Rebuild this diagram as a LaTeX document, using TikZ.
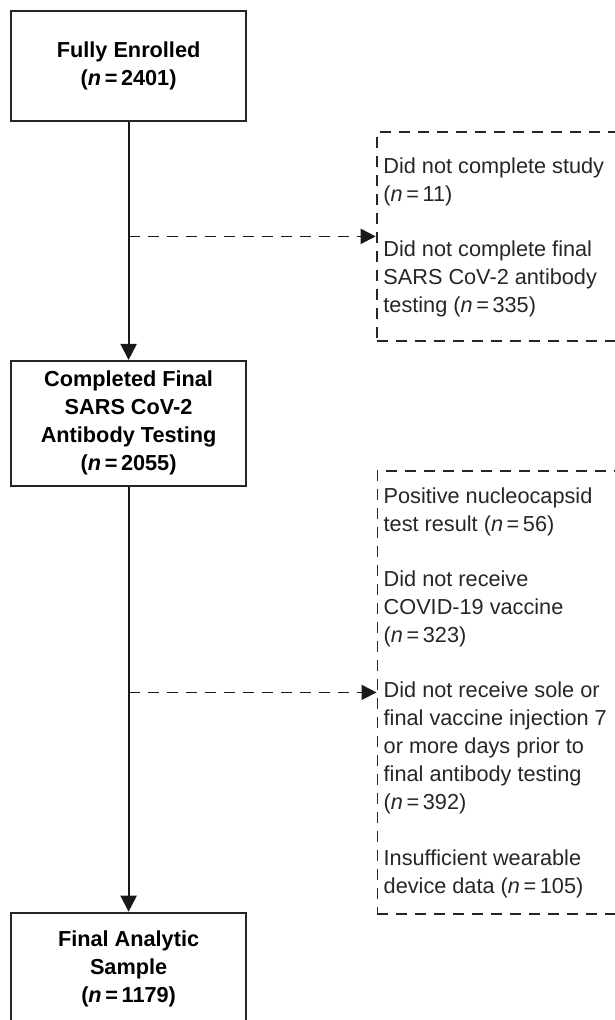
\documentclass[tikz,border=0pt]{standalone}
\usepackage{fontspec}
\setmainfont{Liberation Sans}
\usetikzlibrary{arrows.meta,positioning}

\begin{document}
\begin{tikzpicture}
    [x=1pt, y=-1pt,
    font=\fontsize{21.7}{28}\selectfont,
    % Main flow boxes
    stage/.style={rectangle, draw=black!85, line width=2pt, align=center, font=\fontsize{21.7}{28}\selectfont\bfseries, minimum width=235.3pt, inner sep=0pt},
    % Excluded participants
    excluded/.style={rectangle, draw=black!85, line width=1.8pt, dash pattern=on 11pt off 8pt, align=left, text width=240pt, inner xsep=7pt, inner ysep=0pt, anchor=north west, text=black!85},
    line/.style={draw=black!90, line width=2pt, -{Triangle[length=16pt,width=16pt]}},
    dashline/.style={draw=black!90, line width=1.8pt, dash pattern=on 11pt off 8pt, -{Triangle[length=15pt,width=15pt]}}]
    \useasboundingbox (0,0) rectangle (615,1020);
    \clip (0,0) rectangle (615,1020);
    % Main flow
    \node [stage, minimum height=110pt] (enrolled) at (128.6,65.7) {Fully Enrolled\\(\textit{n}\,=\,2401)};
    \node [stage, minimum height=124.7pt] (completed) at (128.6,423.3) {Completed Final\\SARS CoV-2\\Antibody Testing\\(\textit{n}\,=\,2055)};
    \node [stage, minimum height=112pt] (sample) at (128.6,968.7) {Final Analytic\\Sample\\(\textit{n}\,=\,1179)};
    % Exclusions
    \node [excluded, minimum height=209pt, minimum width=239.3pt] (excl1) at (375.7,131) {};
    \node [excluded, minimum height=443pt, minimum width=238.5pt] (excl2) at (376.5,470) {};
    % Exclusion texts
    \node [anchor=north west, align=left, inner sep=0pt, text=black!85] (excl1text) at ([xshift=7.5pt,yshift=-27pt]excl1.north west) {Did not complete study\\(\textit{n}\,=\,11)\\[27pt]Did not complete final\\SARS CoV-2 antibody\\testing (\textit{n}\,=\,335)};
    \node [anchor=north west, align=left, inner sep=0pt, text=black!85] (excl2text) at ([xshift=7pt,yshift=-18pt]excl2.north west) {Positive nucleocapsid\\test result (\textit{n}\,=\,56)\\[27pt]Did not receive\\COVID-19 vaccine\\(\textit{n}\,=\,323)\\[27pt]Did not receive sole or\\final vaccine injection 7\\or more days prior to\\final antibody testing\\(\textit{n}\,=\,392)\\[28pt]Insufficient wearable\\device data (\textit{n}\,=\,105)};
    % Connectors
    \path [line] (enrolled) -- (completed);
    \path [line] (completed) -- (sample);
    \path [dashline] (enrolled.south |- excl1.west) -- (excl1.west);
    \path [dashline] (completed.south |- excl2.west) -- (excl2.west);
\end{tikzpicture}
\end{document}
